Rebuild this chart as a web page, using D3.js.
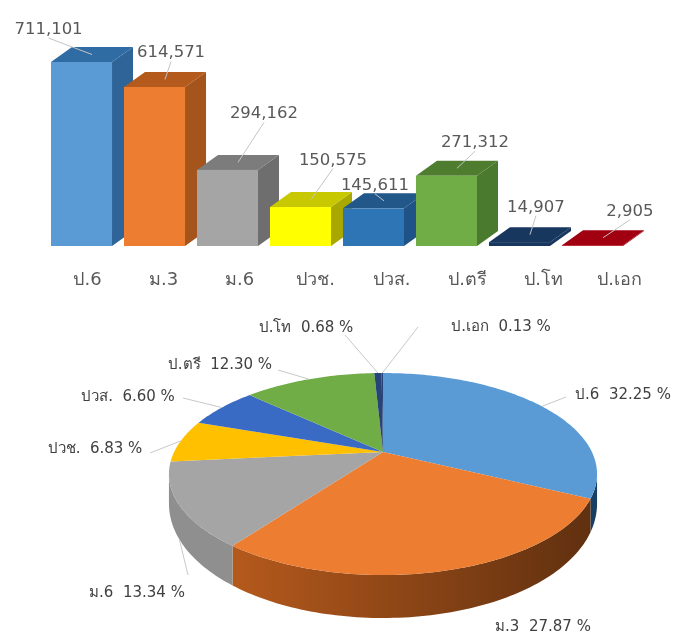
<!DOCTYPE html>
<html>
<head>
<meta charset="utf-8">
<script src="https://cdn.jsdelivr.net/npm/d3@7"></script>
<style>
html, body { margin: 0; padding: 0; background: #fff; }
svg { display: block; filter: blur(0.6px); }
text { font-family: "DejaVu Sans", "Noto Sans", sans-serif; fill: #595959; }
</style>
</head>
<body>
<svg id="chart"></svg>
<script>
// values
const categories = ['ป.6', 'ม.3', 'ม.6', 'ปวช.', 'ปวส.', 'ป.ตรี', 'ป.โท', 'ป.เอก'];
const students = [711101, 614571, 294162, 150575, 145611, 271312, 14907, 2905];
const shares = [32.25, 27.87, 13.34, 6.83, 6.60, 12.30, 0.68, 0.13];

// colours
const barFront = ['#5b9bd5', '#ed7d31', '#a5a5a5', '#ffff00', '#2e75b6', '#70ad47', '#17375e', '#b00010'];
const barTop = ['#2f6ca3', '#b35a1c', '#7c7c7c', '#c8c800', '#22578a', '#4f7d30', '#17375e', '#a00010'];
const barSide = ['#2f6499', '#a5541c', '#6e6e6e', '#a8a800', '#1f5286', '#497a2d', '#17375e', '#a00010'];
const pieTop = ['#5b9bd5', '#ed7d31', '#a5a5a5', '#ffc000', '#3a6bc4', '#70ad47', '#264478', '#264478'];
const wallLight = ['#2f5f8f', '#b4591c', '#8f8f8f', '#a07800', '#2a4f90', '#4f7d30', '#1a3055', '#1a3055'];
const wallDark = ['#173f63', '#5e2f0f', '#777777', '#a07800', '#2a4f90', '#4f7d30', '#1a3055', '#1a3055'];

// label placement, offset from the middle of each bar's top face
const barLabelOffsets = [[-43.5, -20.5], [6, -22], [26, -44], [22, -35], [-9, -11], [18, -21], [6, -23], [27, -22]];
// pie label centre + baseline, and where the leader stops (none for ม.3)
const pieLabelPos = [[623, 399], [543, 631], [137, 597], [95, 453], [128, 401], [220, 369], [306, 332], [501, 331]];
const pieLeaderEnd = [[566, 397], null, [188, 575], [150, 453], [183, 398], [278, 370], [345, 335], [418, 327]];

const width = 680, height = 633;
const svg = d3.select('#chart').attr('width', width).attr('height', height);

// ---- bars
const baseY = 246, depthX = 21, depthY = 15;

const x = d3.scaleBand().domain(categories).range([51, 623]).paddingInner(0.164);
const y = d3.scaleLinear().domain([0, 711101]).range([baseY, 62]);
const xLabels = d3.scalePoint().domain(categories).range([87, 619]);

const bars = svg.append('g').selectAll('g')
    .data(categories)
    .enter().append('g');

bars.append('path')
    .attr('fill', (d, i) => barSide[i])
    .attr('d', (d, i) => {
        const r = x(d) + x.bandwidth();
        return `M${r},${y(students[i])}l${depthX},${-depthY}V${baseY - depthY}l${-depthX},${depthY}Z`;
    });
bars.append('path')
    .attr('fill', (d, i) => barTop[i])
    .attr('d', (d, i) => `M${x(d)},${y(students[i])}l${depthX},${-depthY}h${x.bandwidth()}l${-depthX},${depthY}Z`);
bars.append('rect')
    .attr('x', d => x(d))
    .attr('y', (d, i) => y(students[i]))
    .attr('width', x.bandwidth())
    .attr('height', (d, i) => baseY - y(students[i]))
    .attr('fill', (d, i) => barFront[i]);

const faceX = (d) => x(d) + (x.bandwidth() + depthX) / 2;
const faceY = (i) => y(students[i]) - depthY / 2;

bars.append('line')
    .attr('x1', d => faceX(d))
    .attr('y1', (d, i) => faceY(i))
    .attr('x2', (d, i) => faceX(d) + barLabelOffsets[i][0])
    .attr('y2', (d, i) => faceY(i) + barLabelOffsets[i][1] + 4)
    .attr('stroke', '#c4c4c4')
    .attr('stroke-width', 1);

bars.append('text')
    .attr('x', (d, i) => faceX(d) + barLabelOffsets[i][0])
    .attr('y', (d, i) => faceY(i) + barLabelOffsets[i][1])
    .attr('text-anchor', 'middle')
    .style('font-size', '16.5px')
    .text((d, i) => d3.format(',')(students[i]));

const axis = svg.append('g')
    .attr('transform', 'translate(0,285)')
    .call(d3.axisBottom(xLabels).tickSize(0).tickPadding(0));
axis.select('.domain').remove();
axis.selectAll('text')
    .attr('dy', 0)
    .style('font-family', '"DejaVu Sans", "Noto Sans", sans-serif')
    .style('font-size', '18px');

// ---- pie, drawn as a circle seen in perspective
const pieX = 383, pieY = 452, pieA = 208.9, pieB = 96.2, persp = 0.218, wall = 43;

function project(a, drop) {
    const u = Math.sin(a), v = Math.cos(a), k = 1 + persp * v;
    return [pieX + pieA * u / k, pieY - pieB * v / k + (drop ? drop * (0.6 - 0.4 * v) : 0)];
}
function arcPoints(a0, a1, drop) {
    const n = Math.max(2, Math.ceil((a1 - a0) / 0.02));
    return d3.range(n + 1).map(j => project(a0 + (a1 - a0) * j / n, drop));
}

const slices = d3.pie().sort(null)(shares);
const frontFrom = Math.acos(-persp), frontTo = 2 * Math.PI - frontFrom;

const defs = svg.append('defs');
slices.forEach((s, i) => {
    const g = defs.append('linearGradient')
        .attr('id', 'wall' + i)
        .attr('gradientUnits', 'userSpaceOnUse')
        .attr('x1', 237).attr('x2', 600).attr('y1', 0).attr('y2', 0);
    g.append('stop').attr('offset', 0).attr('stop-color', wallLight[i]);
    g.append('stop').attr('offset', 1).attr('stop-color', wallDark[i]);
});

const pie = svg.append('g');
const line = d3.line();

pie.selectAll('path.wall')
    .data(slices.filter(s => s.endAngle > frontFrom && s.startAngle < frontTo))
    .enter().append('path')
    .attr('class', 'wall')
    .attr('fill', d => `url(#wall${d.index})`)
    .attr('d', d => {
        const a0 = Math.max(d.startAngle, frontFrom), a1 = Math.min(d.endAngle, frontTo);
        return line(arcPoints(a0, a1, 0).concat(arcPoints(a0, a1, wall).reverse())) + 'Z';
    });

pie.selectAll('path.top')
    .data(slices)
    .enter().append('path')
    .attr('class', 'top')
    .attr('fill', d => pieTop[d.index])
    .attr('d', d => line([[pieX, pieY]].concat(arcPoints(d.startAngle, d.endAngle, 0))) + 'Z');

// leaders from the rim of each slice out to its label
const rim = d => project((d.startAngle + d.endAngle) / 2, d.index === 2 ? wall : 0);
pie.selectAll('line')
    .data(slices.filter(s => pieLeaderEnd[s.index]))
    .enter().append('line')
    .attr('x1', d => rim(d)[0])
    .attr('y1', d => rim(d)[1])
    .attr('x2', d => pieLeaderEnd[d.index][0])
    .attr('y2', d => pieLeaderEnd[d.index][1])
    .attr('stroke', '#c8c8c8')
    .attr('stroke-width', 1);

pie.selectAll('text')
    .data(slices)
    .enter().append('text')
    .attr('x', d => pieLabelPos[d.index][0])
    .attr('y', d => pieLabelPos[d.index][1])
    .attr('text-anchor', 'middle')
    .attr('xml:space', 'preserve')
    .style('white-space', 'pre')
    .style('font-size', '15px')
    .style('fill', '#404040')
    .text(d => `${categories[d.index]}  ${shares[d.index].toFixed(2)} %`);
</script>
</body>
</html>
